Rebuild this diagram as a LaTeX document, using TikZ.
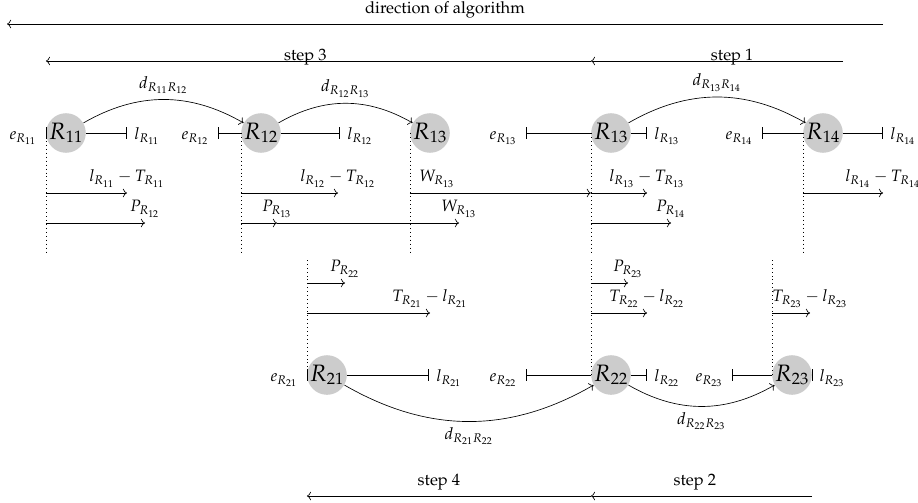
\documentclass[tikz,border=0pt]{standalone}
\usepackage[T1]{fontenc}
\usepackage{mathpazo}
\usetikzlibrary{arrows.meta,positioning}

\tikzset{
    route/.style={circle, fill=gray!40, inner sep=0pt, minimum size=0.75cm, font=\Large},
    tobar/.style={-{Bar[width=7pt]}},
    frombar/.style={{Bar[width=7pt]}-},
    elab/.style={anchor=base east, xshift=-2pt},
    llab/.style={anchor=base west, xshift=1pt},
}

\begin{document}
\begin{tikzpicture}[x=0.2134cm, y=0.2134cm]
    \useasboundingbox (0,0) rectangle (91.8,50.2);

    % routes of the first train
    \node[route] (r11)  at (6.6,36.9)  {$R_{11}$};
    \node[route] (r12)  at (26.1,36.9) {$R_{12}$};
    \node[route] (r13a) at (43.0,36.9) {$R_{13}$};
    \node[route] (r13b) at (61.1,36.9) {$R_{13}$};
    \node[route] (r14)  at (82.3,36.9) {$R_{14}$};

    % routes of the second train
    \node[route] (r21) at (32.7,12.7) {$R_{21}$};
    \node[route] (r22) at (61.1,12.7) {$R_{22}$};
    \node[route] (r23) at (79.2,12.7) {$R_{23}$};

    % dotted guides
    \foreach \r in {r11,r12,r13a,r13b,r14} {
        \draw[dotted] (\r.west) -- (\r.west |- 0,25);
    }
    \foreach \r in {r21,r22,r23} {
        \draw[dotted] (\r.west) -- (\r.west |- 0,24.5);
    }

    % entry and leave times, first train
    \draw ([yshift=-3.5pt]r11.west) -- ([yshift=3.5pt]r11.west);
    \node[elab] (e11) at (r11.west |- r11.base) {$e_{R_{11}}$};
    \draw[tobar] (r11.east) -- (12.7,36.9) coordinate (cl11);
    \node[llab] (l11) at (cl11 |- r11.base) {$l_{R_{11}}$};

    \draw[frombar] (21.8,36.9) coordinate (ce12) -- (r12.west);
    \node[elab] (e12) at (ce12 |- r12.base) {$e_{R_{12}}$};
    \draw[tobar] (r12.east) -- (34.0,36.9) coordinate (cl12);
    \node[llab] (l12) at (cl12 |- r12.base) {$l_{R_{12}}$};

    \draw[frombar] (52.6,36.9) coordinate (ce13) -- (r13b.west);
    \node[elab] (e13) at (ce13 |- r13b.base) {$e_{R_{13}}$};
    \draw[tobar] (r13b.east) -- (64.7,36.9) coordinate (cl13);
    \node[llab] (l13) at (cl13 |- r13b.base) {$l_{R_{13}}$};

    \draw[frombar] (76.2,36.9) coordinate (ce14) -- (r14.west);
    \node[elab] (e14) at (ce14 |- r14.base) {$e_{R_{14}}$};
    \draw[tobar] (r14.east) -- (88.3,36.9) coordinate (cl14);
    \node[llab] (l14) at (cl14 |- r14.base) {$l_{R_{14}}$};

    % entry and leave times, second train
    \draw ([yshift=-3.5pt]r21.west) -- ([yshift=3.5pt]r21.west);
    \node[elab] (e21) at (r21.west |- r21.base) {$e_{R_{21}}$};
    \draw[tobar] (r21.east) -- (42.9,12.7) coordinate (cl21);
    \node[llab] (l21) at (cl21 |- r21.base) {$l_{R_{21}}$};

    \draw[frombar] (52.6,12.7) coordinate (ce22) -- (r22.west);
    \node[elab] (e22) at (ce22 |- r22.base) {$e_{R_{22}}$};
    \draw[tobar] (r22.east) -- (64.7,12.7) coordinate (cl22);
    \node[llab] (l22) at (cl22 |- r22.base) {$l_{R_{22}}$};

    \draw[frombar] (73.2,12.7) coordinate (ce23) -- (r23.west);
    \node[elab] (e23) at (ce23 |- r23.base) {$e_{R_{23}}$};
    \draw ([yshift=-3.5pt]r23.east) -- ([yshift=3.5pt]r23.east);
    \node[llab] (l23) at (r23.east |- r23.base) {$l_{R_{23}}$};

    % distances
    \draw[->] (r11) to[bend left] node[above] (d1112) {$d_{R_{11}R_{12}}$} (r12);
    \draw[->] (r12) to[bend left] node[above] (d1213) {$d_{R_{12}R_{13}}$} (r13a);
    \draw[->] (r13b) to[bend left] node[above] (d1314) {$d_{R_{13}R_{14}}$} (r14);
    \draw[->] (r21) to[bend right] node[below] (d2122) {$d_{R_{21}R_{22}}$} (r22);
    \draw[->] (r22) to[bend right] node[below] (d2223) {$d_{R_{22}R_{23}}$} (r23);

    % durations, first train
    \draw[->] (r11.west |- 0,30.9) -- (12.7,30.9) node[above] (a11) {$l_{R_{11}} - T_{R_{11}}$};
    \draw[->] (r12.west |- 0,30.9) -- (33.8,30.9) node[above] (a12) {$l_{R_{12}} - T_{R_{12}}$};
    \draw[->] (r13a.west |- 0,30.9) -- (r13b.west |- 0,30.9) node[pos=0.15, above] (w13a) {$W_{R_{13}}$};
    \draw[->] (r13b.west |- 0,30.9) -- (64.7,30.9) node[above] (a13) {$l_{R_{13}} - T_{R_{13}}$};
    \draw[->] (r14.west |- 0,30.9) -- (88.3,30.9) node[above] (a14) {$l_{R_{14}} - T_{R_{14}}$};

    \draw[->] (r11.west |- 0,27.9) -- (14.5,27.9) node[above] (p12) {$P_{R_{12}}$};
    \draw[->] (r12.west |- 0,27.9) -- (27.7,27.9) coordinate (cp13) node[above] (p13) {$P_{R_{13}}$};
    \draw[->] (cp13) -- (45.9,27.9) node[above] (w13b) {$W_{R_{13}}$};
    \draw[->] (r13b.west |- 0,27.9) -- (67.1,27.9) node[above] (p14) {$P_{R_{14}}$};

    % durations, second train
    \draw[->] (r21.west |- 0,21.9) -- (34.5,21.9) node[above] (p22) {$P_{R_{22}}$};
    \draw[->] (r22.west |- 0,21.9) -- (62.8,21.9) node[above] (p23) {$P_{R_{23}}$};
    \draw[->] (r21.west |- 0,18.9) -- (43.0,18.9) node[above] (b21) {$T_{R_{21}} - l_{R_{21}}$};
    \draw[->] (r22.west |- 0,18.9) -- (64.7,18.9) node[above] (b22) {$T_{R_{22}} - l_{R_{22}}$};
    \draw[->] (r23.west |- 0,18.9) -- (81.0,18.9) node[above] (b23) {$T_{R_{23}} - l_{R_{23}}$};

    % steps
    \coordinate (dirstart) at (cl14 |- 0,47.8);
    \coordinate (dirend) at (0.7,47.8);
    \draw[->] (dirstart) -- (dirend) node[midway, above] (dir) {direction of algorithm};
    \draw[->] (r14.east |- 0,44.1) -- (r13b.west |- 0,44.1) node[pos=0.44, anchor=base] (s1) {step 1};
    \draw[->] (r13b.west |- 0,44.1) -- (r11.west |- 0,44.1) node[pos=0.524, anchor=base] (s3) {step 3};
    \draw[->] (r23.east |- 0,0.6) -- (r22.west |- 0,0.6) node[pos=0.53, above] (s2) {step 2};
    \draw[->] (r22.west |- 0,0.6) -- (r21.west |- 0,0.6) node[pos=0.535, above] (s4) {step 4};
\end{tikzpicture}
\end{document}
